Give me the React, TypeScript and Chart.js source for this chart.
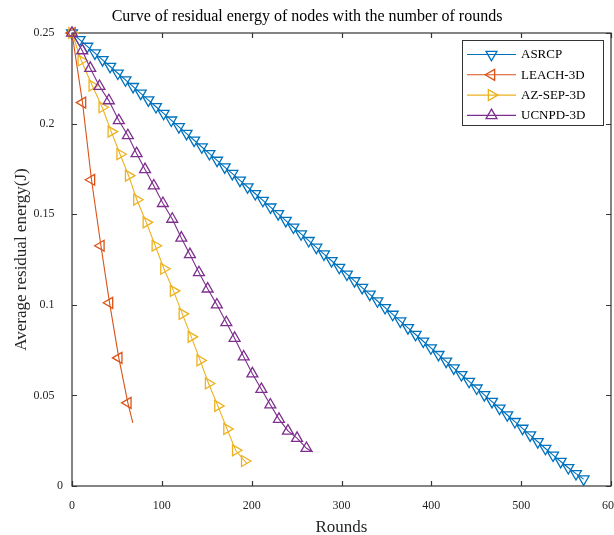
import React, { useEffect, useRef } from 'react';
import { Chart, registerables } from 'chart.js';

Chart.register(...registerables);

const FONT = '"Liberation Serif", "Times New Roman", serif';

const TITLE = 'Curve of residual energy of nodes with the number of rounds';
const X_TITLE = 'Rounds';
const Y_TITLE = 'Average residual energy(J)';

const SERIES_NAMES = ['ASRCP', 'LEACH-3D', 'AZ-SEP-3D', 'UCNPD-3D'];
const COLORS = ['#0072BD', '#D95319', '#EDB120', '#7E2F8E'];
const ROTATIONS = [180, 270, 90, 0];

const X_TICKS = [0, 100, 200, 300, 400, 500, 600];
const Y_TICKS = [0, 0.05, 0.1, 0.15, 0.2, 0.25];

const ASRCP_ROUNDS = [
  0, 8.5, 17, 25.5, 34, 42.5, 51, 59.5, 68, 76.5, 85, 93.5, 102, 110.5, 119, 127.5, 136, 144.5,
  153, 161.5, 170, 178.5, 187, 195.5, 204, 212.5, 221, 229.5, 238, 246.5, 255, 263.5, 272, 280.5,
  289, 297.5, 306, 314.5, 323, 331.5, 340, 348.5, 357, 365.5, 374, 382.5, 391, 399.5, 408, 416.5,
  425, 433.5, 442, 450.5, 459, 467.5, 476, 484.5, 493, 501.5, 510, 518.5, 527, 535.5, 544, 552.5,
  561, 569.5,
];
const ASRCP_ENERGY = [
  0.25, 0.2463, 0.2426, 0.2389, 0.2352, 0.2315, 0.2278, 0.2241, 0.2204, 0.2167, 0.213, 0.2093,
  0.2056, 0.2019, 0.1982, 0.1945, 0.1908, 0.1871, 0.1834, 0.1797, 0.176, 0.1724, 0.1687, 0.165,
  0.1613, 0.1576, 0.1539, 0.1502, 0.1465, 0.1428, 0.1391, 0.1354, 0.1317, 0.128, 0.1243, 0.1206,
  0.1169, 0.1132, 0.1095, 0.1058, 0.1021, 0.0984, 0.0947, 0.091, 0.0873, 0.0836, 0.0799, 0.0762,
  0.0725, 0.0688, 0.0651, 0.0614, 0.0577, 0.054, 0.0503, 0.0466, 0.0429, 0.0392, 0.0355, 0.0318,
  0.0281, 0.0244, 0.0207, 0.017, 0.0135, 0.0101, 0.0068, 0.0038,
];

const LEACH_ROUNDS = [0, 11.7, 21.7, 32.2, 41.8, 52.1, 62.2, 67.7];
const LEACH_ENERGY = [0.25, 0.2116, 0.169, 0.1326, 0.1011, 0.0707, 0.0459, 0.0348];

const AZSEP_ROUNDS = [
  0, 10.3, 22.5, 33.6, 43.7, 53.5, 63, 72.2, 82.7, 92.7, 102.3, 113, 122.8, 132.8, 142.6, 152,
  162.4, 172.5, 182.2, 192.2, 195,
];
const AZSEP_ENERGY = [
  0.25, 0.2348, 0.221, 0.209, 0.1956, 0.1831, 0.1713, 0.158, 0.1455, 0.1326, 0.1199, 0.1077,
  0.095, 0.0823, 0.0693, 0.0566, 0.0442, 0.0315, 0.0197, 0.0138, 0.0122,
];

const UCNPD_ROUNDS = [
  0, 11.4, 20.3, 30.6, 41, 52.1, 62.2, 71.9, 81.3, 91.1, 101.2, 111.6, 121.7, 131.3, 141.3, 151,
  161.3, 171.8, 181, 191.1, 200.8, 210.8, 220.8, 230.4, 240.4, 250.5, 261, 268,
];
const UCNPD_ENERGY = [
  0.25, 0.2403, 0.2306, 0.2206, 0.2127, 0.2017, 0.1934, 0.1835, 0.1747, 0.1657, 0.156, 0.1473,
  0.1369, 0.1278, 0.1178, 0.1088, 0.1, 0.0902, 0.0816, 0.0713, 0.062, 0.0534, 0.0448, 0.0369,
  0.0304, 0.0264, 0.0208, 0.0188,
];

// whether the final point of each series is only a line end (no marker)
const LAST_IS_MARKER = [true, false, false, false];

const SERIES_X = [ASRCP_ROUNDS, LEACH_ROUNDS, AZSEP_ROUNDS, UCNPD_ROUNDS];
const SERIES_Y = [ASRCP_ENERGY, LEACH_ENERGY, AZSEP_ENERGY, UCNPD_ENERGY];

const AXIS_COLOR = '#333333';
const MARKER_R = 6.3;

function drawTriangle(ctx: CanvasRenderingContext2D, x: number, y: number, r: number, rotDeg: number) {
  let rad = (rotDeg * Math.PI) / 180;
  ctx.beginPath();
  for (let k = 0; k < 3; k++) {
    const px = x + Math.sin(rad) * r;
    const py = y - Math.cos(rad) * r;
    if (k === 0) ctx.moveTo(px, py);
    else ctx.lineTo(px, py);
    rad += (2 * Math.PI) / 3;
  }
  ctx.closePath();
  ctx.stroke();
}

const framePlugin = {
  id: 'frame',
  beforeDatasetsDraw(chart: any) {
    const { ctx, chartArea } = chart;
    const { left, right, top, bottom } = chartArea;
    const xs = chart.scales.x;
    const ys = chart.scales.y;
    ctx.save();
    ctx.strokeStyle = AXIS_COLOR;
    ctx.lineWidth = 1.2;
    ctx.strokeRect(left, top, right - left, bottom - top);
    const tl = 5;
    ctx.beginPath();
    xs.ticks.forEach((t: any) => {
      const px = Math.round(xs.getPixelForValue(t.value)) + 0.5;
      ctx.moveTo(px, bottom);
      ctx.lineTo(px, bottom - tl);
      ctx.moveTo(px, top);
      ctx.lineTo(px, top + tl);
    });
    ys.ticks.forEach((t: any) => {
      const py = Math.round(ys.getPixelForValue(t.value)) + 0.5;
      ctx.moveTo(left, py);
      ctx.lineTo(left + tl, py);
      ctx.moveTo(right, py);
      ctx.lineTo(right - tl, py);
    });
    ctx.stroke();
    ctx.restore();
  },
  afterDraw(chart: any) {
    const { ctx } = chart;
    ctx.save();
    // title
    ctx.fillStyle = '#000000';
    ctx.font = `16px ${FONT}`;
    ctx.textAlign = 'center';
    ctx.textBaseline = 'middle';
    ctx.fillText(TITLE, 307, 17);

    // legend
    const bx = 462.5, by = 40.5, bw = 141, bh = 85;
    ctx.fillStyle = '#ffffff';
    ctx.fillRect(bx, by, bw, bh);
    ctx.strokeStyle = AXIS_COLOR;
    ctx.lineWidth = 1;
    ctx.strokeRect(bx, by, bw, bh);
    ctx.font = `13px ${FONT}`;
    ctx.textAlign = 'left';
    ctx.textBaseline = 'middle';
    SERIES_NAMES.forEach((name, i) => {
      const yy = 54.5 + i * 20.3;
      ctx.strokeStyle = COLORS[i];
      ctx.lineWidth = 1.1;
      ctx.beginPath();
      ctx.moveTo(467, yy);
      ctx.lineTo(516, yy);
      ctx.stroke();
      ctx.lineWidth = 1.3;
      drawTriangle(ctx, 491.5, yy, MARKER_R, ROTATIONS[i]);
      ctx.fillStyle = '#000000';
      ctx.fillText(name, 521, yy + 0.5);
    });
    ctx.restore();
  },
};

export default function App() {
  const canvasRef = useRef<HTMLCanvasElement | null>(null);

  useEffect(() => {
    const canvas = canvasRef.current;
    if (!canvas) return;

    const datasets = SERIES_NAMES.map((name, i) => {
      const xs = SERIES_X[i];
      const ys = SERIES_Y[i];
      const data = xs.map((x, k) => ({ x, y: ys[k] }));
      const radii = xs.map((_, k) => (k === xs.length - 1 && !LAST_IS_MARKER[i] ? 0 : MARKER_R));
      return {
        label: name,
        data,
        borderColor: COLORS[i],
        backgroundColor: 'rgba(0,0,0,0)',
        borderWidth: 1.1,
        pointStyle: 'triangle',
        pointRotation: ROTATIONS[i],
        pointRadius: radii,
        pointBorderColor: COLORS[i],
        pointBackgroundColor: 'rgba(0,0,0,0)',
        pointBorderWidth: 1.3,
        tension: 0,
        showLine: true,
        fill: false,
        clip: false,
        order: 4 - i,
      };
    });

    const chart = new Chart(canvas, {
      type: 'scatter',
      data: { datasets },
      options: {
        responsive: false,
        animation: false,
        events: [],
        layout: { autoPadding: false, padding: { top: 33, left: 0, right: 3, bottom: 0 } },
        plugins: {
          legend: { display: false },
          title: { display: false },
          tooltip: { enabled: false },
        },
        scales: {
          x: {
            type: 'linear',
            min: 0,
            max: 600,
            afterFit: (s: any) => {
              s.height = 49;
              s.paddingLeft = 0;
              s.paddingRight = 0;
            },
            afterBuildTicks: (s: any) => {
              s.ticks = X_TICKS.map((v) => ({ value: v }));
            },
            grid: { display: false, drawTicks: false },
            border: { display: false },
            ticks: {
              padding: 13,
              maxRotation: 0,
              autoSkip: false,
              color: '#262626',
              font: { family: FONT, size: 12 },
              callback: (v: any) => String(v),
            },
            title: {
              display: true,
              text: X_TITLE,
              color: '#262626',
              font: { family: FONT, size: 17, lineHeight: 1 },
              padding: { top: 0, bottom: -1 },
            },
          },
          y: {
            type: 'linear',
            min: 0,
            max: 0.25,
            afterFit: (s: any) => {
              s.width = 72;
              s.paddingTop = 0;
              s.paddingBottom = 0;
            },
            afterBuildTicks: (s: any) => {
              s.ticks = Y_TICKS.map((v) => ({ value: v }));
            },
            grid: { display: false, drawTicks: false },
            border: { display: false },
            ticks: {
              padding: 9,
              autoSkip: false,
              color: '#262626',
              font: { family: FONT, size: 12 },
              callback: (v: any) => {
                const n = Math.round(Number(v) * 100) / 100;
                return n === 0 ? '0' : String(n) + '\u2002\u2009';
              },
            },
            title: {
              display: true,
              text: Y_TITLE,
              color: '#262626',
              font: { family: FONT, size: 17, lineHeight: 1 },
              padding: { top: 13, bottom: 0 },
            },
          },
        },
      },
      plugins: [framePlugin],
    });

    return () => {
      chart.destroy();
    };
  }, []);

  return (
    <canvas
      ref={canvasRef}
      width={614}
      height={535}
      style={{ position: 'absolute', left: 0, top: 0, display: 'block', width: 614, height: 535 }}
    />
  );
}
